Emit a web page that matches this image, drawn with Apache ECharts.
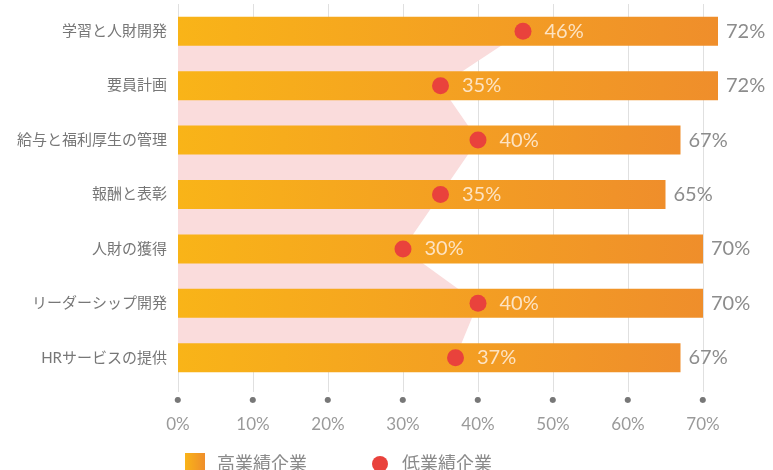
<!DOCTYPE html>
<html>
<head>
<meta charset="utf-8">
<script src="https://cdn.jsdelivr.net/npm/echarts@6/dist/echarts.min.js"></script>
<style>html,body{margin:0;padding:0;background:#fff;}#c{width:773px;height:470px;}</style>
</head>
<body>
<div id="c"></div>
<script>
const categories = ['学習と人財開発', '要員計画', '給与と福利厚生の管理', '報酬と表彰', '人財の獲得', 'リーダーシップ開発', 'HRサービスの提供'];
const highPerformers = [72, 72, 67, 65, 70, 70, 67];
const lowPerformers = [46, 35, 40, 35, 30, 40, 37];
const tickLabels = ['0%', '10%', '20%', '30%', '40%', '50%', '60%', '70%'];
const seriesNames = ['高業績企業', '低業績企業'];

const FONT = 'Lato, "Noto Sans CJK JP", sans-serif';
const barGrad = new echarts.graphic.LinearGradient(0, 0, 1, 0, [
  { offset: 0, color: '#f9b418' },
  { offset: 1, color: '#ef8e2b' }
]);
const chart = echarts.init(document.getElementById('c'), null, { renderer: 'canvas' });
chart.setOption({
  animation: false,
  backgroundColor: '#ffffff',
  textStyle: { fontFamily: FONT },
  grid: { left: 178, right: 70, top: 4, bottom: 85, containLabel: false },
  legend: [
    {
      data: [{ name: seriesNames[0], icon: 'rect' }],
      left: 180, top: 448, itemWidth: 20, itemHeight: 22,
      textStyle: { color: '#8a8a8a', fontSize: 18, fontFamily: FONT, padding: [0, 0, 0, 7] },
      selectedMode: false
    },
    {
      data: [{ name: seriesNames[1], icon: 'circle' }],
      left: 367, top: 450, itemWidth: 16, itemHeight: 16,
      textStyle: { color: '#8a8a8a', fontSize: 18, fontFamily: FONT, padding: [0, 0, 0, 9] },
      selectedMode: false
    }
  ],
  xAxis: {
    type: 'value', min: 0, max: 70, interval: 10,
    axisLine: { show: false },
    axisTick: { show: true, length: 7, lineStyle: { color: '#e0e0e0', width: 1 } },
    splitLine: { show: true, lineStyle: { color: '#e0e0e0', width: 1 } },
    axisLabel: {
      margin: 0,
      formatter: function (v) { return '{d|●}\n{v|' + tickLabels[Math.round(v / 10)] + '}'; },
      rich: {
        d: { fontSize: 8, lineHeight: 30, color: '#777777', fontFamily: 'DejaVu Sans' },
        v: { fontSize: 17, lineHeight: 20, color: '#9a9a9a', fontFamily: FONT }
      }
    }
  },
  yAxis: {
    type: 'category', data: categories, inverse: true,
    axisLine: { show: false }, axisTick: { show: false },
    axisLabel: { color: '#777777', fontSize: 15, margin: 11, fontFamily: FONT }
  },
  series: [
    {
      name: 'area', type: 'line', data: lowPerformers, z: 1,
      symbol: 'none', silent: true,
      lineStyle: { width: 0, opacity: 0 },
      areaStyle: { color: '#fadcdc', opacity: 1 }
    },
    {
      name: seriesNames[0], type: 'bar', data: highPerformers, z: 2,
      barWidth: 29, clip: false,
      itemStyle: { color: barGrad },
      label: {
        show: true, position: 'right', distance: 8,
        formatter: '{c}%', color: '#8c8c8c', fontSize: 20, fontFamily: FONT
      }
    },
    {
      name: seriesNames[1], type: 'scatter', data: lowPerformers, z: 3,
      symbol: 'circle', symbolSize: 17,
      itemStyle: { color: '#e9423c', opacity: 1 },
      label: {
        show: true, position: 'right', distance: 13,
        formatter: '{c}%', color: '#fde3c2', fontSize: 20, fontFamily: FONT
      }
    }
  ]
});
</script>
</body>
</html>
